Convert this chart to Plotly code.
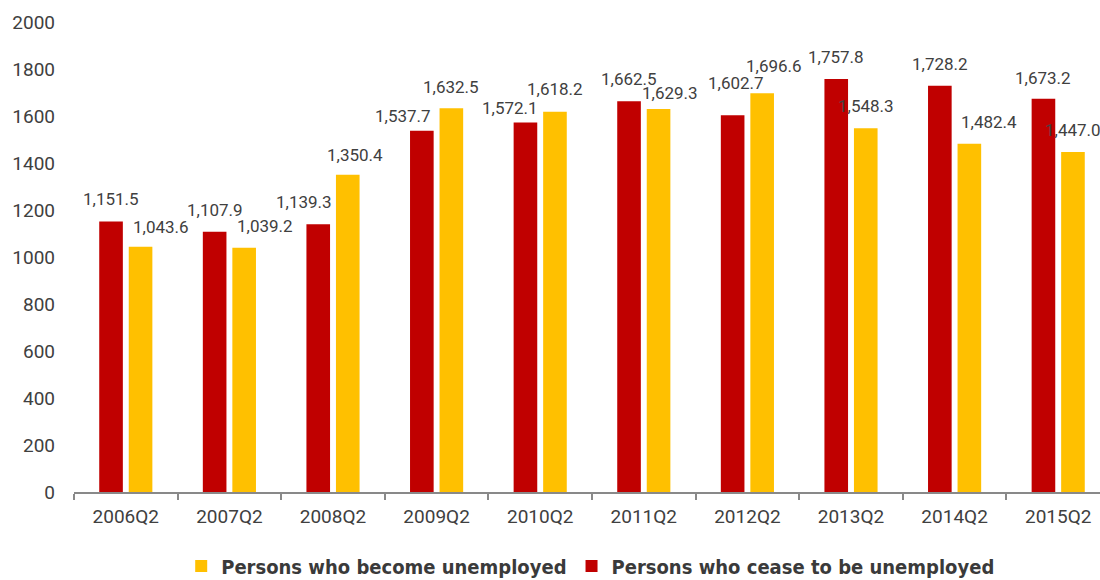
import plotly.graph_objects as go

categories = ["2006Q2", "2007Q2", "2008Q2", "2009Q2", "2010Q2",
              "2011Q2", "2012Q2", "2013Q2", "2014Q2", "2015Q2"]
cease_unemployed = [1151.5, 1107.9, 1139.3, 1537.7, 1572.1,
                    1662.5, 1602.7, 1757.8, 1728.2, 1673.2]
become_unemployed = [1043.6, 1039.2, 1350.4, 1632.5, 1618.2,
                     1629.3, 1696.6, 1548.3, 1482.4, 1447.0]
y_ticks = [0, 200, 400, 600, 800, 1000, 1200, 1400, 1600, 1800, 2000]

# label placement tweaks (pixels) mimicking the original's staggered labels
red_label_shift = [(0, 22), (0, 22), (-14, 22), (-19, 15), (-15, 15),
                   (0, 22), (3, 32), (0, 22), (0, 22), (0, 21)]
yel_label_shift = [(20, 20), (21, 22), (7, 20), (0, 21), (0, 23),
                   (11, 16), (12, 27), (0, 22), (20, 22), (0, 22)]

RED = "#C00000"
YEL = "#FFC000"
TXT = "#404040"
FONT = "Roboto, 'Noto Sans', sans-serif"

fig = go.Figure()
fig.add_trace(go.Bar(name="Persons who cease to be unemployed", x=categories,
                     y=cease_unemployed, marker=dict(color=RED, line=dict(width=0))))
fig.add_trace(go.Bar(name="Persons who become unemployed", x=categories,
                     y=become_unemployed, marker=dict(color=YEL, line=dict(width=0))))

W, H = 1100, 580
ml, mr, mt, mb = 74, 0, 22, 88
cat_px = 103.6
bargap = 0.43
bar_off = cat_px * (1 - bargap) / 4

annotations = []
for i, c in enumerate(categories):
    for vals, shifts, sign in ((cease_unemployed, red_label_shift, -1),
                               (become_unemployed, yel_label_shift, 1)):
        dx, dy = shifts[i]
        annotations.append(dict(x=c, y=vals[i], xref="x", yref="y",
                                text=f"{vals[i]:,.1f}", showarrow=False,
                                xshift=sign * bar_off + dx, yshift=dy,
                                xanchor="center", yanchor="middle",
                                font=dict(family=FONT, size=17, color=TXT)))

n_vis = (W - ml - mr) / cat_px
fig.update_layout(
    width=W, height=H,
    margin=dict(l=ml, r=mr, t=mt, b=mb, pad=0, autoexpand=False),
    paper_bgcolor="white", plot_bgcolor="white",
    barmode="group", bargap=bargap, bargroupgap=0.2,
    font=dict(family=FONT, color=TXT),
    annotations=annotations,
    showlegend=True,
    legend=dict(orientation="h", traceorder="reversed",
                xref="container", yref="container",
                x=0.537, xanchor="center", y=(H - 566) / H, yanchor="middle",
                font=dict(family="'DejaVu Sans Condensed', 'DejaVu Sans', sans-serif",
                          size=20, color="#3a3a3a", weight="bold"),
                itemwidth=30),
    xaxis=dict(type="category", range=[-0.5, -0.5 + n_vis], automargin=False,
               showline=True, linecolor="#898989", linewidth=2,
               ticks="outside", tickson="boundaries", ticklen=6,
               tickcolor="#898989", tickwidth=2,
               tickfont=dict(family=FONT, size=19, color=TXT),
               showgrid=False, zeroline=False, ticklabelstandoff=6),
    yaxis=dict(range=[0, 2000], tickvals=y_ticks, ticktext=[str(t) for t in y_ticks],
               automargin=False,
               showline=False, showgrid=False, zeroline=False, ticks="",
               tickfont=dict(family=FONT, size=19, color=TXT),
               ticklabelstandoff=18),
)

fig.write_html("out.html")
